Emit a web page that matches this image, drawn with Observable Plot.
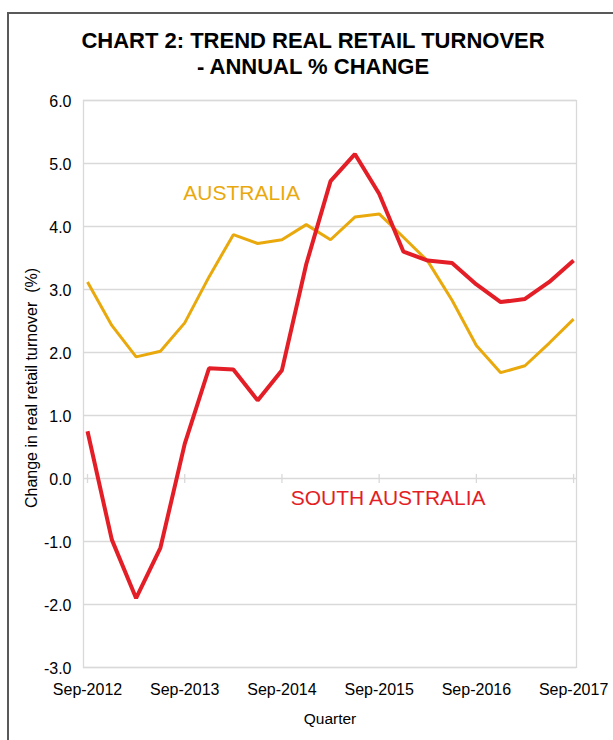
<!DOCTYPE html>
<html>
<head>
<meta charset="utf-8">
<script src="https://cdn.jsdelivr.net/npm/d3@7"></script>
<script src="https://cdn.jsdelivr.net/npm/@observablehq/plot@0.6"></script>
<style>
  body { margin: 0; background: #fff; font-family: "Liberation Sans", Arial, sans-serif; }
  #wrap { position: relative; width: 613px; height: 740px; overflow: hidden; background: #fff; }
  #frame { position: absolute; left: 7px; top: 12px; width: 700px; height: 800px; border: 2px solid #595959; box-sizing: border-box; }
  #chart { position: absolute; left: 0; top: 0; }
  #title { position: absolute; left: 0; top: 28px; width: 626px; text-align: center; font-weight: bold; font-size: 22px; line-height: 26px; color: #000; z-index: 2; }
</style>
</head>
<body>
<div id="wrap">
  <div id="frame"></div>
  <div id="chart"></div>
  <div id="title">CHART 2: TREND REAL RETAIL TURNOVER<br>- ANNUAL % CHANGE</div>
</div>
<script>
const quarters = ["Sep-2012","Dec-2012","Mar-2013","Jun-2013","Sep-2013","Dec-2013","Mar-2014","Jun-2014",
  "Sep-2014","Dec-2014","Mar-2015","Jun-2015","Sep-2015","Dec-2015","Mar-2016","Jun-2016",
  "Sep-2016","Dec-2016","Mar-2017","Jun-2017","Sep-2017"];
const southAustralia = [0.75, -0.97, -1.90, -1.10, 0.55, 1.75, 1.73, 1.24, 1.72, 3.40, 4.72, 5.15,
  4.52, 3.60, 3.46, 3.42, 3.08, 2.80, 2.85, 3.12, 3.46];
const australia = [3.12, 2.43, 1.93, 2.02, 2.47, 3.20, 3.87, 3.73, 3.79, 4.03, 3.79, 4.15,
  4.20, 3.83, 3.45, 2.83, 2.11, 1.68, 1.79, 2.15, 2.53];
const yTicks = [-3, -2, -1, 0, 1, 2, 3, 4, 5, 6];
const xTickLabels = ["Sep-2012","Sep-2013","Sep-2014","Sep-2015","Sep-2016","Sep-2017"];
const seriesNames = ["SOUTH AUSTRALIA", "AUSTRALIA"];
const seriesColors = ["#E31E26", "#E9A90C"];
const labelX = [12.37, 6.34];
const labelY = [-0.31, 4.53];

const rows = quarters.map((q, i) => ({i, q, sa: southAustralia[i], au: australia[i]}));
const xTickIdx = xTickLabels.map(l => quarters.indexOf(l));
const labels = seriesNames.map((name, k) => ({name, color: seriesColors[k], x: labelX[k], y: labelY[k]}));

const chart = Plot.plot({
  width: 613,
  height: 740,
  marginTop: 100,
  marginBottom: 73,
  marginLeft: 83,
  marginRight: 37,
  style: {background: "transparent", fontFamily: "'Liberation Sans', Arial, sans-serif", color: "#000"},
  x: {type: "linear", domain: [-0.165, 20.12]},
  y: {domain: [-3, 6]},
  marks: [
    Plot.gridY(yTicks, {stroke: "#D9D9D9", strokeOpacity: 1, strokeWidth: 1.3}),
    Plot.frame({stroke: "#D9D9D9", strokeWidth: 1.3}),
    Plot.ruleX(xTickIdx, {x: d => d, y1: 0.065, y2: -0.08, stroke: "#D9D9D9", strokeWidth: 1.3}),
    Plot.axisY({ticks: yTicks, tickSize: 0, tickPadding: 12, tickFormat: d => d.toFixed(1), fontSize: 16, label: null, dy: 1}),
    Plot.axisX({ticks: xTickIdx, tickSize: 0, tickPadding: 16, tickFormat: i => quarters[i], fontSize: 16, label: null}),
    Plot.line(rows, {x: "i", y: "au", stroke: seriesColors[1], strokeWidth: 3, strokeLinejoin: "miter", strokeLinecap: "butt"}),
    Plot.line(rows, {x: "i", y: "sa", stroke: seriesColors[0], strokeWidth: 4, strokeLinejoin: "miter", strokeLinecap: "butt"}),
    Plot.text(labels, {x: "x", y: "y", text: "name", fill: "color", fontSize: 21, textAnchor: "middle", lineAnchor: "middle"}),
    Plot.text(["Change in real retail turnover  (%)"], {frameAnchor: "left", textAnchor: "middle", rotate: -90, dx: -52, dy: 4, fontSize: 16, text: d => d, fill: "#000"}),
    Plot.text(["Quarter"], {frameAnchor: "bottom", dy: 56, fontSize: 15.5, text: d => d, fill: "#000"})
  ]
});
document.getElementById("chart").appendChild(chart);
</script>
</body>
</html>
